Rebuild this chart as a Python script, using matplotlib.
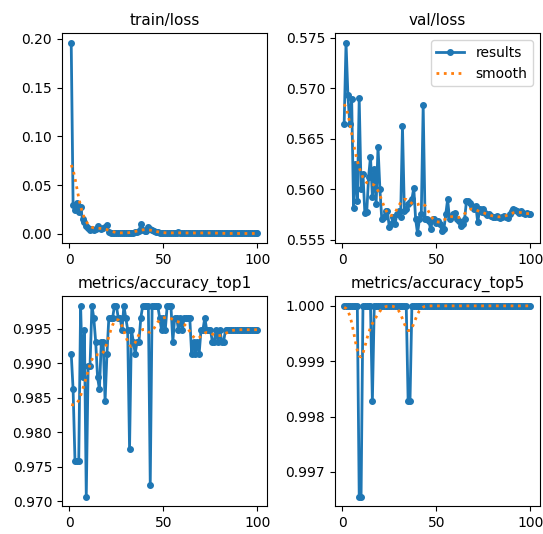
import numpy as np
import matplotlib
matplotlib.use("Agg")
import matplotlib.pyplot as plt

epochs = np.arange(1, 101)

train_loss = [0.196, 0.030, 0.025, 0.032, 0.022, 0.028, 0.015, 0.012, 0.008, 0.006,
              0.004, 0.005, 0.004, 0.005, 0.008, 0.006, 0.005, 0.006, 0.007, 0.009,
              0.002, 0.001, 0.001, 0.001, 0.001, 0.001, 0.001, 0.001, 0.001, 0.001,
              0.001, 0.001, 0.001, 0.001, 0.002, 0.002, 0.003, 0.010, 0.004, 0.003,
              0.003, 0.007, 0.005, 0.004, 0.003, 0.002, 0.002, 0.001, 0.001, 0.001,
              0.001, 0.001, 0.001, 0.001, 0.001, 0.001, 0.001, 0.002, 0.001, 0.001,
              0.001, 0.001, 0.001, 0.001, 0.001, 0.001, 0.001, 0.001, 0.001, 0.001,
              0.001, 0.001, 0.001, 0.001, 0.001, 0.001, 0.001, 0.001, 0.001, 0.001,
              0.0005, 0.0005, 0.0005, 0.0005, 0.0005, 0.0005, 0.0005, 0.0005, 0.0005, 0.0005,
              0.0005, 0.0005, 0.0005, 0.0005, 0.0005, 0.0005, 0.0005, 0.0005, 0.0005, 0.0005]

val_loss = [0.5664, 0.5745, 0.5693, 0.5664, 0.5689, 0.5581, 0.5625, 0.5588, 0.5690, 0.5600,
            0.5615, 0.5576, 0.5577, 0.5612, 0.5632, 0.5592, 0.5620, 0.5585, 0.5642, 0.5600,
            0.5570, 0.5572, 0.5578, 0.5578, 0.5562, 0.5565, 0.5572, 0.5565, 0.5575, 0.5578,
            0.5572, 0.5662, 0.5578, 0.5580, 0.5585, 0.5587, 0.5590, 0.5601, 0.5570, 0.5556,
            0.5570, 0.5575, 0.5683, 0.5570, 0.5570, 0.5568, 0.5560, 0.5570, 0.5570, 0.5566,
            0.5568, 0.5565, 0.5558, 0.5560, 0.5575, 0.5590, 0.5570, 0.5572, 0.5575, 0.5576,
            0.5570, 0.5568, 0.5563, 0.5565, 0.5570, 0.5588, 0.5588, 0.5586, 0.5583, 0.5580,
            0.5583, 0.5567, 0.5580, 0.5577, 0.5580, 0.5576, 0.5574, 0.5575, 0.5573, 0.5572,
            0.5572, 0.5573, 0.5572, 0.5571, 0.5572, 0.5573, 0.5572, 0.5571, 0.5575, 0.5578,
            0.5580, 0.5579, 0.5578, 0.5576, 0.5578, 0.5576, 0.5575, 0.5576, 0.5575, 0.5575]

# top1 accuracy: 580 validation images, values are 1 - misses/580
top1_miss = [5, 8, 14, 14, 14, 1, 7, 3, 17, 6,
             6, 1, 2, 4, 7, 8, 4, 4, 9, 5,
             2, 2, 2, 1, 1, 2, 2, 3, 1, 2,
             3, 13, 3, 4, 5, 4, 4, 2, 1, 1,
             1, 1, 16, 1, 1, 1, 1, 2, 3, 2,
             3, 1, 1, 1, 4, 2, 2, 3, 2, 3,
             2, 2, 2, 2, 5, 4, 5, 4, 5, 3,
             3, 2, 3, 3, 3, 4, 4, 3, 4, 3,
             4, 4, 3, 3, 3, 3, 3, 3, 3, 3,
             3, 3, 3, 3, 3, 3, 3, 3, 3, 3]
top5_miss = [0] * 100
top5_miss[8] = 2
top5_miss[9] = 2
top5_miss[15] = 1
top5_miss[34] = 1
top5_miss[35] = 1

top1 = 1 - np.array(top1_miss) / 580
top5 = 1 - np.array(top5_miss) / 580

titles = ["train/loss", "val/loss", "metrics/accuracy_top1", "metrics/accuracy_top5"]
series = [np.array(train_loss), np.array(val_loss), top1, top5]


def smooth(y, sigma=3):
    # same as scipy gaussian_filter1d (mode reflect, truncate 4)
    r = int(4 * sigma + 0.5)
    k = np.exp(-0.5 * (np.arange(-r, r + 1) / sigma) ** 2)
    k /= k.sum()
    yp = np.pad(y, r, mode="symmetric")
    return np.convolve(yp, k, mode="valid")


fig, axs = plt.subplots(2, 2, figsize=(5.43, 5.34), dpi=100)
axs = axs.ravel()
for i, (ax, y) in enumerate(zip(axs, series)):
    ax.plot(epochs, y, marker=".", label="results", linewidth=2, markersize=8)
    ax.plot(epochs, smooth(y), ":", label="smooth", linewidth=2)
    ax.set_title(titles[i], fontsize=11)
    ax.tick_params(labelsize=10)
    ax.set_xticks([0, 50, 100])
axs[1].legend(fontsize=10)
axs[1].set_yticks([0.555, 0.560, 0.565, 0.570, 0.575])
axs[3].set_yticks([0.997, 0.998, 0.999, 1.000])

plt.subplots_adjust(left=0.114, right=0.994, bottom=0.052, top=0.938,
                    wspace=0.332, hspace=0.254)
plt.savefig("out.png")
